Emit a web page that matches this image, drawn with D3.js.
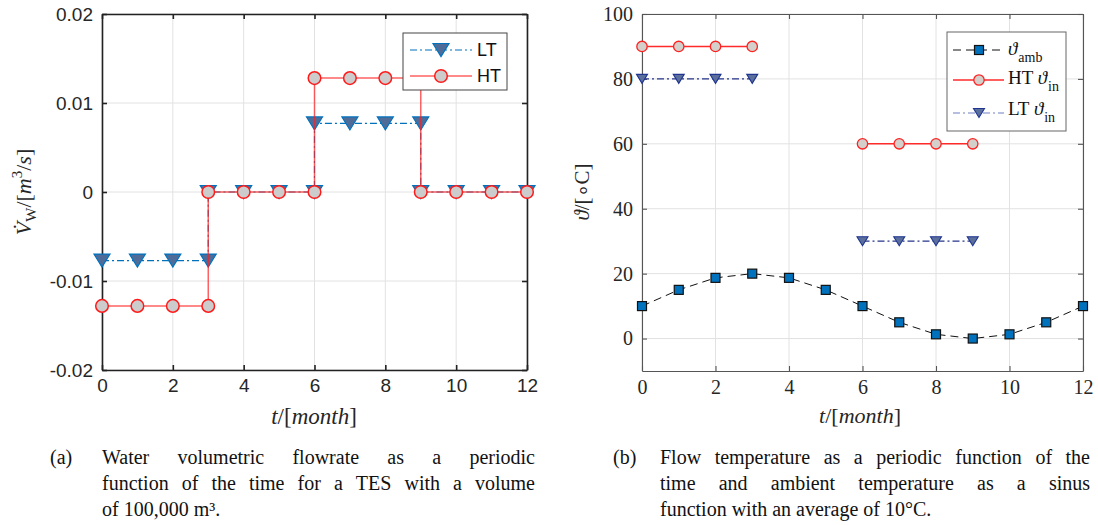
<!DOCTYPE html>
<html>
<head>
<meta charset="utf-8">
<script src="https://cdn.jsdelivr.net/npm/d3@7"></script>
<style>
  body { margin: 0; background: #fff; }
  svg { display: block; }
</style>
</head>
<body>
<svg id="fig" width="1098" height="525"></svg>
<script>
// ---- data ----
var monthTicks = [0, 2, 4, 6, 8, 10, 12];
var flowTicks = [-0.02, -0.01, 0, 0.01, 0.02];
var tempTicks = [0, 20, 40, 60, 80, 100];

// (a) step profile, points repeated at the switch months 3, 6, 9
var flowMonth = [0, 1, 2, 3, 3, 4, 5, 6, 6, 7, 8, 9, 9, 10, 11, 12];
var flowLT = [-0.0077, -0.0077, -0.0077, -0.0077, 0, 0, 0, 0, 0.0077, 0.0077, 0.0077, 0.0077, 0, 0, 0, 0];
var flowHT = [-0.0128, -0.0128, -0.0128, -0.0128, 0, 0, 0, 0, 0.0128, 0.0128, 0.0128, 0.0128, 0, 0, 0, 0];

// (b) temperatures per month
var months = [0, 1, 2, 3, 4, 5, 6, 7, 8, 9, 10, 11, 12];
var tempAmb = [10, 15, 18.7, 20, 18.7, 15, 10, 5, 1.3, 0, 1.3, 5, 10];
var tempHT = [90, 90, 90, 90, null, null, 60, 60, 60, 60, null, null, null];
var tempLT = [80, 80, 80, 80, null, null, 30, 30, 30, 30, null, null, null];

var svg = d3.select('#fig');

function zip(xs, ys) {
  return xs.map(function (x, i) { return [x, ys[i]]; });
}

// grid + box axes with inward ticks on all four sides
function frame(g, x, y, xt, yt, yFmt, font, axisColor, axisWidth) {
  var x0 = x.range()[0], x1 = x.range()[1];
  var y0 = y.range()[0], y1 = y.range()[1];

  g.append('g').selectAll('line').data(xt).enter().append('line')
    .attr('x1', x).attr('x2', x).attr('y1', y0).attr('y2', y1)
    .attr('stroke', '#e2e2e2').attr('stroke-width', 1);
  g.append('g').selectAll('line').data(yt).enter().append('line')
    .attr('y1', y).attr('y2', y).attr('x1', x0).attr('x2', x1)
    .attr('stroke', '#e2e2e2').attr('stroke-width', 1);

  var bottom = g.append('g').attr('transform', 'translate(0,' + y0 + ')')
    .call(d3.axisBottom(x).tickValues(xt).tickSizeInner(-5).tickSizeOuter(0).tickPadding(9));
  var top = g.append('g').attr('transform', 'translate(0,' + y1 + ')')
    .call(d3.axisTop(x).tickValues(xt).tickSizeInner(-5).tickSizeOuter(0).tickFormat(''));
  var left = g.append('g').attr('transform', 'translate(' + x0 + ',0)')
    .call(d3.axisLeft(y).tickValues(yt).tickSizeInner(-5).tickSizeOuter(0).tickPadding(9).tickFormat(yFmt));
  var right = g.append('g').attr('transform', 'translate(' + x1 + ',0)')
    .call(d3.axisRight(y).tickValues(yt).tickSizeInner(-5).tickSizeOuter(0).tickFormat(''));

  [bottom, top, left, right].forEach(function (a) {
    a.select('.domain').attr('stroke', axisColor).attr('stroke-width', axisWidth);
    a.selectAll('.tick line').attr('stroke', axisColor).attr('stroke-width', axisWidth);
    a.selectAll('text').attr('font-family', font.family).attr('font-size', font.size).attr('fill', '#262626');
  });
}

function triDown(w, h) {
  return 'M' + (-w / 2) + ',' + (-h / 2) + 'L' + (w / 2) + ',' + (-h / 2) + 'L0,' + (h / 2) + 'Z';
}

// ================= (a) flowrate =================
var xa = d3.scaleLinear().domain([0, 12]).range([102, 527]);
var ya = d3.scaleLinear().domain([-0.02, 0.02]).range([370, 14]);
var ga = svg.append('g');

frame(ga, xa, ya, monthTicks, flowTicks, function (d) { return d === 0 ? '0' : String(d); },
  { family: '"Liberation Sans", Arial, sans-serif', size: '19px' }, '#222', 1.6);

var lineA = d3.line().x(function (d) { return xa(d[0]); }).y(function (d) { return ya(d[1]); });

var ltA = zip(flowMonth, flowLT);
var htA = zip(flowMonth, flowHT);

ga.append('path').attr('d', lineA(ltA)).attr('fill', 'none')
  .attr('stroke', '#0072BD').attr('stroke-width', 1.2).attr('stroke-dasharray', '7,3,2,3');
ga.append('g').selectAll('path').data(ltA).enter().append('path')
  .attr('transform', function (d) { return 'translate(' + xa(d[0]) + ',' + ya(d[1]) + ')'; })
  .attr('d', triDown(16, 13)).attr('fill', '#4f6c99').attr('stroke', '#0072BD').attr('stroke-width', 1.2);

ga.append('path').attr('d', lineA(htA)).attr('fill', 'none')
  .attr('stroke', '#ff2020').attr('stroke-opacity', 0.7).attr('stroke-width', 1.5);
ga.append('g').selectAll('circle').data(htA).enter().append('circle')
  .attr('cx', function (d) { return xa(d[0]); }).attr('cy', function (d) { return ya(d[1]); })
  .attr('r', 6.3).attr('fill', '#cccccc').attr('stroke', '#ff1a1a').attr('stroke-width', 1.5);

// legend (a)
var lga = ga.append('g');
lga.append('rect').attr('x', 403).attr('y', 33).attr('width', 104).attr('height', 57)
  .attr('fill', '#fff').attr('stroke', '#444').attr('stroke-width', 1);
lga.append('line').attr('x1', 410).attr('x2', 472).attr('y1', 50).attr('y2', 50)
  .attr('stroke', '#0072BD').attr('stroke-width', 1.2).attr('stroke-dasharray', '7,3,2,3');
lga.append('path').attr('transform', 'translate(441,50)').attr('d', triDown(16, 13))
  .attr('fill', '#4f6c99').attr('stroke', '#0072BD').attr('stroke-width', 1.2);
lga.append('line').attr('x1', 410).attr('x2', 472).attr('y1', 76).attr('y2', 76)
  .attr('stroke', '#ff2020').attr('stroke-opacity', 0.7).attr('stroke-width', 1.5);
lga.append('circle').attr('cx', 441).attr('cy', 76).attr('r', 6.3)
  .attr('fill', '#cccccc').attr('stroke', '#ff1a1a').attr('stroke-width', 1.5);
lga.selectAll('text.lab').data([['LT', 50], ['HT', 76]]).enter().append('text')
  .attr('x', 477).attr('y', function (d) { return d[1]; }).attr('dy', '0.36em')
  .attr('font-family', '"Liberation Sans", Arial, sans-serif').attr('font-size', '18px')
  .attr('fill', '#111').text(function (d) { return d[0]; });

// axis labels (a)
var serif = '"Liberation Serif", "Times New Roman", serif';
var xla = ga.append('text').attr('x', 314).attr('y', 424).attr('text-anchor', 'middle')
  .attr('font-family', serif).attr('font-size', '23px').attr('fill', '#262626');
xla.append('tspan').attr('font-style', 'italic').text('t');
xla.append('tspan').text('/[');
xla.append('tspan').attr('font-style', 'italic').text('month');
xla.append('tspan').text(']');

var yla = ga.append('text').attr('transform', 'translate(31,192) rotate(-90)').attr('text-anchor', 'middle')
  .attr('font-family', serif).attr('font-size', '22px').attr('fill', '#262626');
yla.append('tspan').attr('font-style', 'italic').text('V\u0307');
yla.append('tspan').attr('font-size', '15px').attr('dy', 5).text('W');
yla.append('tspan').attr('dy', -5).text('/[');
yla.append('tspan').attr('font-style', 'italic').text('m');
yla.append('tspan').attr('font-size', '15px').attr('dy', -9).text('3');
yla.append('tspan').attr('dy', 9).text('/');
yla.append('tspan').attr('font-style', 'italic').text('s');
yla.append('tspan').text(']');

// ================= (b) temperatures =================
var xb = d3.scaleLinear().domain([0, 12]).range([642, 1083]);
var yb = d3.scaleLinear().domain([-10, 100]).range([371, 14]);
var gb = svg.append('g');

frame(gb, xb, yb, monthTicks, tempTicks, function (d) { return String(d); },
  { family: serif, size: '20px' }, '#555', 1.1);

var lineB = d3.line().defined(function (d) { return d[1] != null; })
  .x(function (d) { return xb(d[0]); }).y(function (d) { return yb(d[1]); });

var ambB = zip(months, tempAmb);
var htB = zip(months, tempHT);
var ltB = zip(months, tempLT);

gb.append('path').attr('d', lineB(ambB)).attr('fill', 'none')
  .attr('stroke', '#111').attr('stroke-width', 1).attr('stroke-dasharray', '8,5');
gb.append('path').attr('d', lineB(htB)).attr('fill', 'none')
  .attr('stroke', '#ff2a2a').attr('stroke-width', 1.4);
gb.append('path').attr('d', lineB(ltB)).attr('fill', 'none')
  .attr('stroke', '#24358a').attr('stroke-width', 1.2).attr('stroke-dasharray', '7,3,2,3');

gb.append('g').selectAll('rect').data(ambB).enter().append('rect')
  .attr('x', function (d) { return xb(d[0]) - 4.5; }).attr('y', function (d) { return yb(d[1]) - 4.5; })
  .attr('width', 9).attr('height', 9).attr('fill', '#0072BD').attr('stroke', '#111').attr('stroke-width', 1.2);
gb.append('g').selectAll('circle').data(htB.filter(function (d) { return d[1] != null; })).enter().append('circle')
  .attr('cx', function (d) { return xb(d[0]); }).attr('cy', function (d) { return yb(d[1]); })
  .attr('r', 5.2).attr('fill', '#d3cfcb').attr('stroke', '#ff2020').attr('stroke-width', 1.3);
gb.append('g').selectAll('path').data(ltB.filter(function (d) { return d[1] != null; })).enter().append('path')
  .attr('transform', function (d) { return 'translate(' + xb(d[0]) + ',' + yb(d[1]) + ')'; })
  .attr('d', triDown(11, 9)).attr('fill', '#5b6f9c').attr('stroke', '#1f3590').attr('stroke-width', 1.1);

// legend (b)
var lgb = gb.append('g');
lgb.append('rect').attr('x', 947).attr('y', 32).attr('width', 119).attr('height', 99)
  .attr('fill', '#fff').attr('stroke', '#666').attr('stroke-width', 1);
lgb.append('line').attr('x1', 953).attr('x2', 1004).attr('y1', 50).attr('y2', 50)
  .attr('stroke', '#111').attr('stroke-width', 1).attr('stroke-dasharray', '8,5');
lgb.append('rect').attr('x', 974.5).attr('y', 45.5).attr('width', 9).attr('height', 9)
  .attr('fill', '#0072BD').attr('stroke', '#111').attr('stroke-width', 1.2);
lgb.append('line').attr('x1', 953).attr('x2', 1004).attr('y1', 80).attr('y2', 80)
  .attr('stroke', '#ff2a2a').attr('stroke-width', 1.4);
lgb.append('circle').attr('cx', 979).attr('cy', 80).attr('r', 5.2)
  .attr('fill', '#d3cfcb').attr('stroke', '#ff2020').attr('stroke-width', 1.3);
lgb.append('line').attr('x1', 953).attr('x2', 1004).attr('y1', 113).attr('y2', 113)
  .attr('stroke', '#6f80c4').attr('stroke-width', 1.2).attr('stroke-dasharray', '7,3,2,3');
lgb.append('path').attr('transform', 'translate(979,113)').attr('d', triDown(11, 9))
  .attr('fill', '#5b6f9c').attr('stroke', '#1f3590').attr('stroke-width', 1.1);

var legB = [['', 'amb', 55], ['HT ', 'in', 84], ['LT ', 'in', 115]];
legB.forEach(function (e) {
  var t = lgb.append('text').attr('x', 1008).attr('y', e[2])
    .attr('font-family', serif).attr('font-size', '19px').attr('fill', '#111');
  if (e[0]) t.append('tspan').text(e[0]);
  t.append('tspan').attr('font-style', 'italic').text('\u03D1');
  t.append('tspan').attr('font-size', '14px').attr('dy', 7).attr('dx', 1).text(e[1]);
});

// axis labels (b)
var xlb = gb.append('text').attr('x', 860).attr('y', 423).attr('text-anchor', 'middle')
  .attr('font-family', serif).attr('font-size', '22px').attr('fill', '#262626');
xlb.append('tspan').attr('font-style', 'italic').text('t');
xlb.append('tspan').text('/[');
xlb.append('tspan').attr('font-style', 'italic').text('month');
xlb.append('tspan').text(']');

var ylb = gb.append('text').attr('transform', 'translate(589,192) rotate(-90)').attr('text-anchor', 'middle')
  .attr('font-family', serif).attr('font-size', '21px').attr('fill', '#262626');
ylb.append('tspan').attr('font-style', 'italic').text('\u03D1');
ylb.append('tspan').text('/[\u2218C]');

// ================= captions =================
function caption(tag, tagX, lines, x0, x1, yTop, lh) {
  var g = svg.append('g').attr('font-family', serif).attr('font-size', '20px').attr('fill', '#111');
  g.append('text').attr('x', tagX).attr('y', yTop).text(tag);
  lines.forEach(function (ln, i) {
    var yy = yTop + i * lh;
    if (!ln.justify) {
      g.append('text').attr('x', x0).attr('y', yy).text(ln.text);
      return;
    }
    var words = ln.text.split(' ');
    var nodes = words.map(function (w) { return g.append('text').attr('y', yy).text(w); });
    var widths = nodes.map(function (n) { return n.node().getComputedTextLength(); });
    var gap = (x1 - x0 - d3.sum(widths)) / (words.length - 1);
    var cx = x0;
    nodes.forEach(function (n, j) { n.attr('x', cx); cx += widths[j] + gap; });
  });
}

caption('(a)', 50, [
  { text: 'Water volumetric flowrate as a periodic', justify: true },
  { text: 'function of the time for a TES with a volume', justify: true },
  { text: 'of 100,000 m\u00B3.', justify: false }
], 102, 535, 464, 26);

caption('(b)', 613, [
  { text: 'Flow temperature as a periodic function of the', justify: true },
  { text: 'time and ambient temperature as a sinus', justify: true },
  { text: 'function with an average of 10\u00B0C.', justify: false }
], 660, 1090, 464, 26);
</script>
</body>
</html>
